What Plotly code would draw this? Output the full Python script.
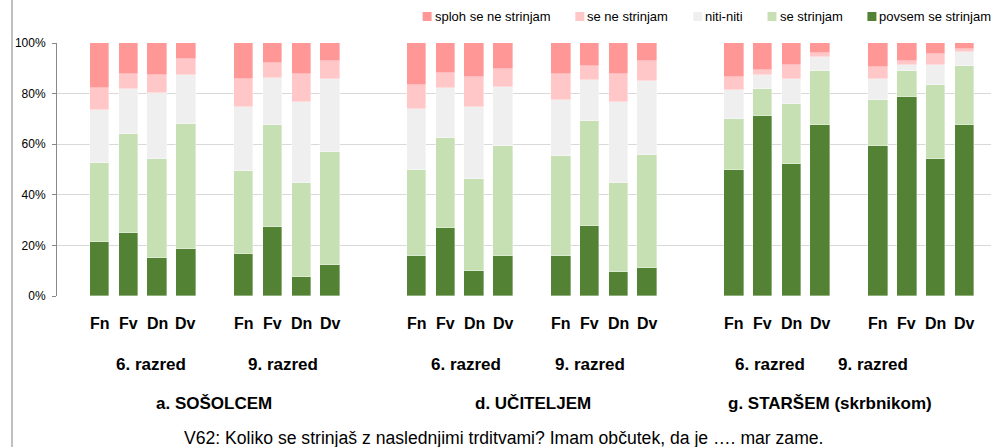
import plotly.graph_objects as go

# ---------------- data ----------------
groups = ["a. SOŠOLCEM", "d. UČITELJEM", "g. STARŠEM (skrbnikom)"]
grades = ["6. razred", "9. razred"]
items = ["Fn", "Fv", "Dn", "Dv"]

series_names = ["povsem se strinjam", "se strinjam", "niti-niti", "se ne strinjam", "sploh se ne strinjam"]

povsem = [21.3, 25.0, 14.9, 18.6, 16.5, 27.2, 7.4, 12.2,
          16.0, 26.7, 9.8, 16.0, 16.0, 27.6, 9.6, 11.2,
          49.9, 71.2, 52.0, 67.5, 59.4, 78.6, 54.2, 67.5]
se_strinjam = [31.3, 39.2, 39.3, 49.4, 32.9, 40.2, 37.3, 44.6,
               33.9, 35.9, 36.4, 43.4, 39.2, 41.4, 35.1, 44.5,
               20.1, 10.6, 24.0, 21.3, 18.1, 10.2, 29.3, 23.3]
niti = [20.8, 17.7, 26.0, 19.2, 25.5, 18.7, 31.8, 28.8,
        24.1, 19.8, 28.7, 23.4, 22.3, 16.5, 31.9, 29.4,
        11.4, 5.4, 9.6, 5.8, 8.1, 2.7, 7.9, 5.5]
se_ne = [8.9, 5.9, 7.0, 6.3, 10.7, 6.0, 11.3, 7.4,
         9.5, 5.8, 11.8, 7.0, 10.3, 5.5, 11.2, 7.9,
         5.3, 2.1, 5.8, 1.6, 4.8, 1.5, 4.4, 1.5]
sploh = [17.7, 12.2, 12.8, 6.5, 14.4, 7.9, 12.2, 7.0,
         16.5, 11.8, 13.3, 10.2, 12.2, 9.0, 12.2, 7.0,
         13.3, 10.7, 8.6, 3.8, 9.6, 7.0, 4.2, 2.2]

y_ticks = [0, 20, 40, 60, 80, 100]
y_tick_text = ["0%", "20%", "40%", "60%", "80%", "100%"]
footnote = "V62: Koliko se strinjaš z naslednjimi trditvami? Imam občutek, da je …. mar zame."

# ---------------- styling / layout ----------------
colors = {
    "povsem se strinjam": "#548235",
    "se strinjam": "#C6E0B4",
    "niti-niti": "#EFEFEF",
    "se ne strinjam": "#FFC7C7",
    "sploh se ne strinjam": "#FF9797",
}
values = {
    "povsem se strinjam": povsem,
    "se strinjam": se_strinjam,
    "niti-niti": niti,
    "se ne strinjam": se_ne,
    "sploh se ne strinjam": sploh,
}

W, H = 991, 447
PL, PR, PT, PB = 57, 991, 43, 296  # plot area in pixels

# slot positions: 4 bars, 1 empty slot between grades, 2 empty slots between groups
x_pos = []
x_lab = []
for gi, g in enumerate(groups):
    for ri, r in enumerate(grades):
        for ii, it in enumerate(items):
            x_pos.append(gi * 11 + ri * 5 + ii)
            x_lab.append(it)

slot_px = 28.83
first_px = 99.5
x0 = -(first_px - PL) / slot_px
x1 = x0 + (PR - PL) / slot_px


def px_x(px):
    return (px - PL) / (PR - PL)


def px_y(py):
    return (PB - py) / (PB - PT)


FONT = "Liberation Sans, Arial, sans-serif"

fig = go.Figure()
for name in series_names:
    fig.add_trace(go.Bar(
        x=x_pos, y=values[name], name=name,
        marker=dict(color=colors[name], line=dict(color="rgba(255,255,255,0.6)", width=0.6)),
        width=0.68, showlegend=False,
    ))

annotations = []
# item labels under each bar
for x, lab in zip(x_pos, x_lab):
    annotations.append(dict(x=x, xref="x", y=px_y(323), yref="paper", text=lab,
                            showarrow=False, xanchor="center", yanchor="middle",
                            font=dict(family=FONT, size=16, color="#000000", weight="bold")))
# grade labels
razred_px = [150.5, 283.3, 465.8, 590.0, 770.3, 872.5]
k = 0
for gi, g in enumerate(groups):
    for ri, r in enumerate(grades):
        annotations.append(dict(x=px_x(razred_px[k]), xref="paper", y=px_y(364), yref="paper", text=r,
                                showarrow=False, xanchor="center", yanchor="middle",
                                font=dict(family=FONT, size=17, color="#000000", weight="bold")))
        k += 1
group_px = [214.0, 532.5, 830.0]
for gi, g in enumerate(groups):
    annotations.append(dict(x=px_x(group_px[gi]), xref="paper", y=px_y(403), yref="paper", text=g,
                            showarrow=False, xanchor="center", yanchor="middle",
                            font=dict(family=FONT, size=17, color="#000000", weight="bold")))
annotations.append(dict(x=px_x(503), xref="paper", y=px_y(438), yref="paper", text=footnote,
                        showarrow=False, xanchor="center", yanchor="middle",
                        font=dict(family=FONT, size=17.6, color="#000000")))

# manual legend (left to right)
legend_order = ["sploh se ne strinjam", "se ne strinjam", "niti-niti", "se strinjam", "povsem se strinjam"]
sq_px = [422.6, 575.3, 693.3, 767.5, 867.4]
shapes = []
for name, sx in zip(legend_order, sq_px):
    shapes.append(dict(type="rect", xref="paper", yref="paper",
                       x0=px_x(sx), x1=px_x(sx + 9), y0=px_y(21), y1=px_y(12),
                       fillcolor=colors[name], line=dict(width=0)))
    annotations.append(dict(x=px_x(sx + 10), xref="paper", y=px_y(16.5), yref="paper", text=name,
                            showarrow=False, xanchor="left", yanchor="middle",
                            font=dict(family=FONT, size=13, color="#000000")))

# left frame line
shapes.append(dict(type="line", xref="paper", yref="paper",
                   x0=px_x(12), x1=px_x(12), y0=px_y(H), y1=px_y(0),
                   line=dict(color="#808080", width=1)))

fig.update_layout(
    width=W, height=H,
    margin=dict(l=PL, r=W - PR, t=PT, b=H - PB, pad=0),
    paper_bgcolor="white", plot_bgcolor="white",
    barmode="stack", bargap=0,
    xaxis=dict(range=[x0, x1], showticklabels=False, showgrid=False, zeroline=False,
               showline=False, ticks=""),
    yaxis=dict(range=[0, 100], tickmode="array", tickvals=y_ticks, ticktext=y_tick_text,
               showgrid=True, gridcolor="#D9D9D9", gridwidth=1, zeroline=False, showline=True,
               linecolor="#888888", linewidth=1, ticks="outside", ticklen=4,
               tickcolor="#888888", ticklabelstandoff=4,
               tickfont=dict(family=FONT, size=12, color="#000000")),
    annotations=annotations, shapes=shapes,
    showlegend=False,
)

fig.write_html("out.html", config={"displayModeBar": False},
               post_script="document.body.style.margin='0';document.body.style.overflow='hidden';")
